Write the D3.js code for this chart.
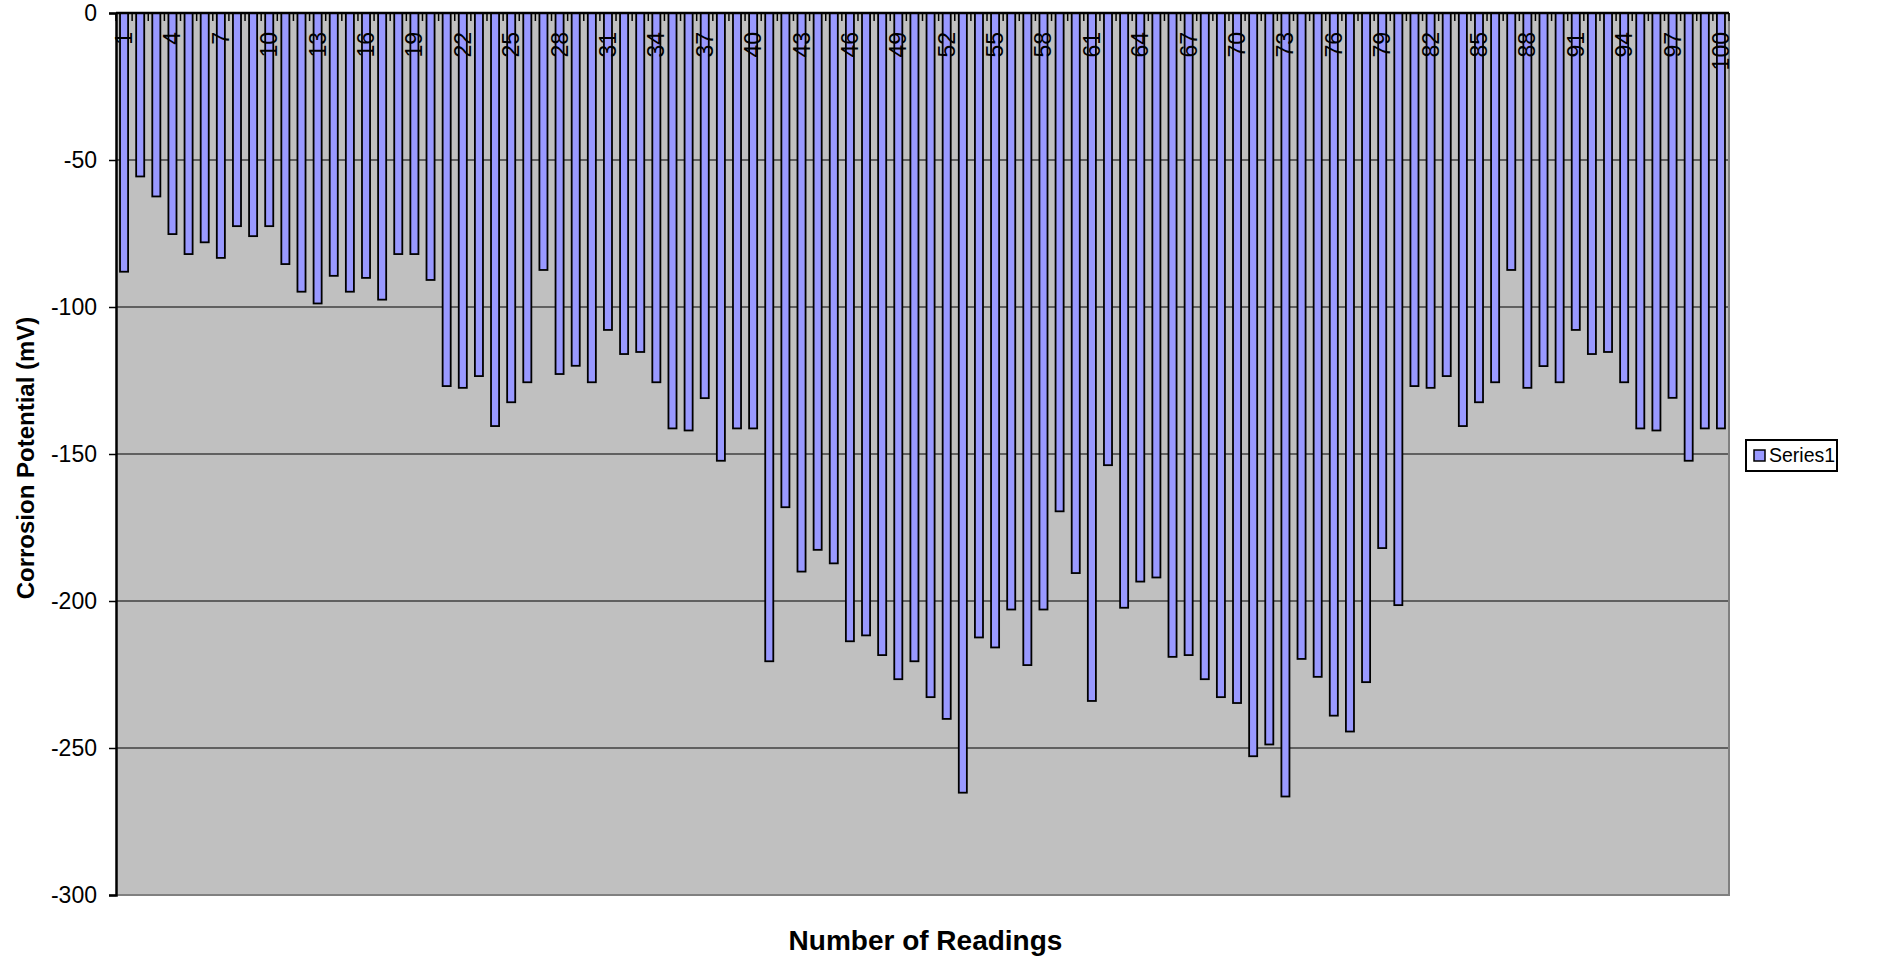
<!DOCTYPE html>
<html>
<head>
<meta charset="utf-8">
<script src="https://cdn.jsdelivr.net/npm/d3@7"></script>
<style>
  html, body { margin: 0; padding: 0; background: #fff; }
  svg { display: block; font-family: "Liberation Sans", Arial, sans-serif; }
</style>
</head>
<body>
<svg id="chart" width="1887" height="960"></svg>
<script>
// readings 1..100, corrosion potential in mV
const readings = d3.range(1, 101)
const potentials = [
  -88, -55.6, -62.4, -75.2, -82, -78, -83.3, -72.5, -75.9, -72.5,
  -85.4, -94.8, -98.8, -89.4, -94.8, -90.1, -97.5, -82, -82, -90.8,
  -126.9, -127.5, -123.5, -140.5, -132.4, -125.6, -87.4, -122.8, -120, -125.6,
  -107.8, -116, -115.3, -125.6, -141.3, -142, -131, -152.3, -141.3, -141.3,
  -220.5, -168.1, -190, -182.6, -187.2, -213.7, -211.7, -218.4, -226.6, -220.5,
  -232.7, -240.1, -265.2, -212.4, -215.8, -202.9, -221.8, -202.9, -169.5, -190.5,
  -234, -153.8, -202.3, -193.4, -192, -219, -218.4, -226.6, -232.7, -234.7,
  -252.8, -248.8, -266.5, -219.7, -225.8, -239, -244.4, -227.6, -182, -201.4,
  -126.9, -127.5, -123.5, -140.5, -132.4, -125.6, -87.4, -127.5, -120.1, -125.6,
  -107.8, -116, -115.3, -125.6, -141.3, -142, -130.9, -152.3, -141.3, -141.3
]
const yTicks = [0, -50, -100, -150, -200, -250, -300]
const xLabels = readings.filter(d => (d - 1) % 3 === 0)
const seriesName = "Series1"

const plot = {left: 116, right: 1729, top: 13, bottom: 895}
const svg = d3.select("#chart")

const x = d3.scaleBand()
  .domain(readings)
  .range([plot.left, plot.right])
  .paddingInner(0.5)
  .paddingOuter(0.25)

const y = d3.scaleLinear()
  .domain([-300, 0])
  .range([plot.bottom, plot.top])

// plot area
svg.append("rect")
  .attr("x", plot.left)
  .attr("y", plot.top)
  .attr("width", plot.right - plot.left)
  .attr("height", plot.bottom - plot.top)
  .attr("fill", "#c0c0c0")

// gridlines
svg.append("g")
  .selectAll("line")
  .data(yTicks.filter(d => d !== 0 && d !== -300))
  .enter()
  .append("line")
  .attr("x1", plot.left)
  .attr("x2", plot.right)
  .attr("y1", d => y(d))
  .attr("y2", d => y(d))
  .attr("stroke", "#000")
  .attr("stroke-width", 1.2)

// gray border bottom/right
svg.append("path")
  .attr("d", `M${plot.left},${plot.bottom}H${plot.right}V${plot.top}`)
  .attr("fill", "none")
  .attr("stroke", "#808080")
  .attr("stroke-width", 2)

// bars
svg.append("g")
  .selectAll("rect")
  .data(readings)
  .enter()
  .append("rect")
  .attr("x", d => x(d))
  .attr("width", x.bandwidth())
  .attr("y", y(0))
  .attr("height", (d, i) => y(potentials[i]) - y(0))
  .attr("fill", "#9999ff")
  .attr("stroke", "#000")
  .attr("stroke-width", 1.8)

// y axis
const yAxis = svg.append("g")
  .attr("transform", `translate(${plot.left},0)`)
  .call(d3.axisLeft(y).tickValues(yTicks).tickSize(7).tickPadding(12).tickFormat(d3.format("d")))
yAxis.select(".domain").attr("stroke", "#000").attr("stroke-width", 2.5)
yAxis.selectAll(".tick line").attr("stroke", "#000").attr("stroke-width", 1.5)
yAxis.selectAll(".tick text")
  .attr("font-size", 23)
  .attr("font-family", "Liberation Sans, Arial, sans-serif")
  .attr("fill", "#000")
  .text(d => d === 0 ? "0" : "-" + Math.abs(d))

// x axis along value 0 (top of plot)
const step = x.step()
const bounds = d3.range(0, readings.length + 1).map(i => plot.left + i * step)
const xAxis = svg.append("g")
xAxis.append("line")
  .attr("x1", plot.left)
  .attr("x2", plot.right)
  .attr("y1", y(0))
  .attr("y2", y(0))
  .attr("stroke", "#000")
  .attr("stroke-width", 2.5)
xAxis.selectAll("line.tick")
  .data(bounds)
  .enter()
  .append("line")
  .attr("class", "tick")
  .attr("x1", d => d)
  .attr("x2", d => d)
  .attr("y1", y(0))
  .attr("y2", y(0) + 8)
  .attr("stroke", "#000")
  .attr("stroke-width", 1.5)
xAxis.selectAll("text")
  .data(xLabels)
  .enter()
  .append("text")
  .attr("transform", d => `translate(${x(d) + x.bandwidth() / 2 + 8},${y(0) + 19}) rotate(-90)`)
  .attr("text-anchor", "end")
  .attr("font-size", 23)
  .attr("fill", "#000")
  .text(d => d)

// axis titles
svg.append("text")
  .attr("transform", `translate(34,${(plot.top + plot.bottom) / 2 + 4}) rotate(-90)`)
  .attr("text-anchor", "middle")
  .attr("font-size", 24)
  .attr("font-weight", "bold")
  .text("Corrosion Potential (mV)")

svg.append("text")
  .attr("x", (plot.left + plot.right) / 2 + 3)
  .attr("y", 950)
  .attr("text-anchor", "middle")
  .attr("font-size", 28)
  .attr("font-weight", "bold")
  .text("Number of Readings")

// legend
const legend = svg.append("g").attr("transform", "translate(1746,440)")
legend.append("rect")
  .attr("width", 91)
  .attr("height", 31)
  .attr("fill", "#fff")
  .attr("stroke", "#000")
  .attr("stroke-width", 2)
legend.append("rect")
  .attr("x", 8)
  .attr("y", 10)
  .attr("width", 11)
  .attr("height", 11)
  .attr("fill", "#9999ff")
  .attr("stroke", "#000")
  .attr("stroke-width", 1.5)
legend.append("text")
  .attr("x", 23)
  .attr("y", 22)
  .attr("font-size", 19.5)
  .attr("fill", "#000")
  .text(seriesName)
</script>
</body>
</html>
